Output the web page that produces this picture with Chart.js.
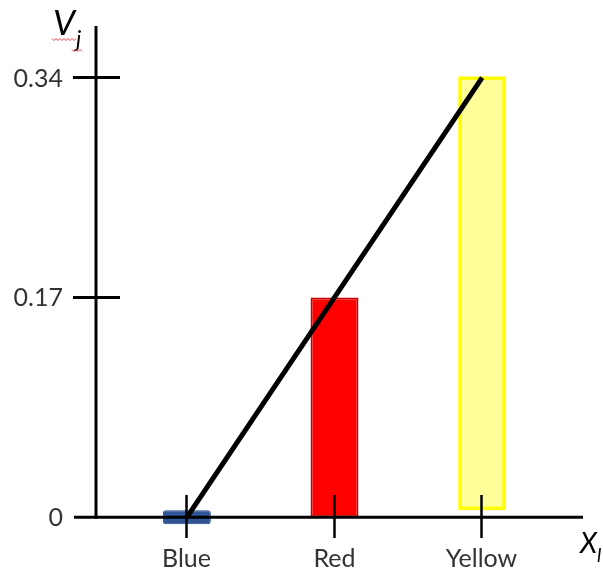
<!DOCTYPE html>
<html>
<head>
<meta charset="utf-8">
<script src="https://cdn.jsdelivr.net/npm/chart.js@4"></script>
<style>
html,body{margin:0;padding:0;background:#fff;}
#wrap{width:603px;height:574px;}
</style>
</head>
<body>
<div id="wrap"><canvas id="c" width="603" height="574"></canvas></div>
<script>
// ---- data ----
const categories = ['Blue', 'Red', 'Yellow'];
const barLow  = [-0.0054, 0, 0.0055];
const barHigh = [0.0054, 0.17, 0.341];
const lineValues = [0, 0.17, 0.34];
const yTickValues = [0, 0.17, 0.34];
const yTickLabels = ['0', '0.17', '0.34'];
const barFill   = ['#2F5597', '#FF0000', '#FFFF99'];
const barBorder = ['#24457E', '#C80000', '#FFFF00'];
const barBorderWidth = [1, 2, 4];

const FONT = 'Lato, "Open Sans", sans-serif';
const TEXT = '#333333';

const axesPlugin = {
  id: 'axesPlugin',
  afterDatasetsDraw(chart) {
    const ctx = chart.ctx;
    const xs = chart.scales.x, ys = chart.scales.y;
    const y0 = ys.getPixelForValue(0);
    ctx.save();
    ctx.strokeStyle = '#000';
    ctx.lineCap = 'butt';
    // y axis
    ctx.lineWidth = 3;
    ctx.beginPath(); ctx.moveTo(96, 26); ctx.lineTo(96, y0 + 1.5); ctx.stroke();
    // x axis
    ctx.beginPath(); ctx.moveTo(74, y0); ctx.lineTo(583, y0); ctx.stroke();
    // y ticks and labels
    ctx.font = '25px ' + FONT;
    ctx.fillStyle = TEXT;
    ctx.textAlign = 'right';
    ctx.textBaseline = 'middle';
    yTickValues.forEach((v, i) => {
      const py = ys.getPixelForValue(v);
      if (v !== 0) {
        ctx.lineWidth = 3;
        ctx.beginPath(); ctx.moveTo(73, py); ctx.lineTo(120, py); ctx.stroke();
      }
      ctx.fillText(yTickLabels[i], 63, py + 1);
    });
    // category ticks and labels
    ctx.textAlign = 'center';
    ctx.textBaseline = 'alphabetic';
    categories.forEach((c, i) => {
      const px = Math.round(xs.getPixelForValue(i)) - 0.5;
      ctx.lineWidth = 2.5;
      ctx.beginPath(); ctx.moveTo(px, 495); ctx.lineTo(px, 538); ctx.stroke();
      ctx.fillText(c, px, 567);
    });
    // axis titles
    ctx.textAlign = 'left';
    ctx.font = 'italic 35px ' + FONT;
    ctx.fillStyle = '#000';
    ctx.fillText('V', 53, 35);
    ctx.font = 'italic 23px ' + FONT;
    ctx.fillText('j', 76, 47);
    ctx.font = 'italic 28px ' + FONT;
    ctx.fillText('X', 580, 553);
    ctx.font = 'italic 19px ' + FONT;
    ctx.fillText('l', 597, 562);
    // spelling squiggle
    ctx.strokeStyle = '#e04040';
    ctx.lineWidth = 1;
    const squig = (x1, x2, yy) => {
      ctx.beginPath();
      for (let x = x1, k = 0; x <= x2; x += 2, k++) {
        const yv = yy + (k % 2 ? 1 : -1);
        if (k === 0) ctx.moveTo(x, yv); else ctx.lineTo(x, yv);
      }
      ctx.stroke();
    };
    squig(52, 77, 39.5);
    squig(72, 82, 50.5);
    ctx.restore();
  }
};

new Chart(document.getElementById('c'), {
  data: {
    labels: categories,
    datasets: [
      {
        type: 'line',
        data: lineValues,
        borderColor: '#000',
        borderWidth: 5,
        pointRadius: 0,
        fill: false,
        tension: 0,
        clip: false,
        order: 0
      },
      {
        type: 'bar',
        data: categories.map((c, i) => [barLow[i], barHigh[i]]),
        backgroundColor: barFill,
        borderColor: barBorder,
        borderWidth: barBorderWidth,
        borderSkipped: false,
        borderRadius: [3, 0, 0],
        barPercentage: 0.325,
        categoryPercentage: 1,
        clip: false,
        order: 1
      }
    ]
  },
  options: {
    responsive: false,
    animation: false,
    events: [],
    layout: { padding: { left: 113, right: 47, top: 0, bottom: 5 } },
    plugins: { legend: { display: false }, tooltip: { enabled: false } },
    scales: {
      x: { type: 'category', display: false, offset: true },
      y: { type: 'linear', display: false, min: -0.04, max: 0.4 }
    }
  },
  plugins: [axesPlugin]
});
</script>
</body>
</html>
